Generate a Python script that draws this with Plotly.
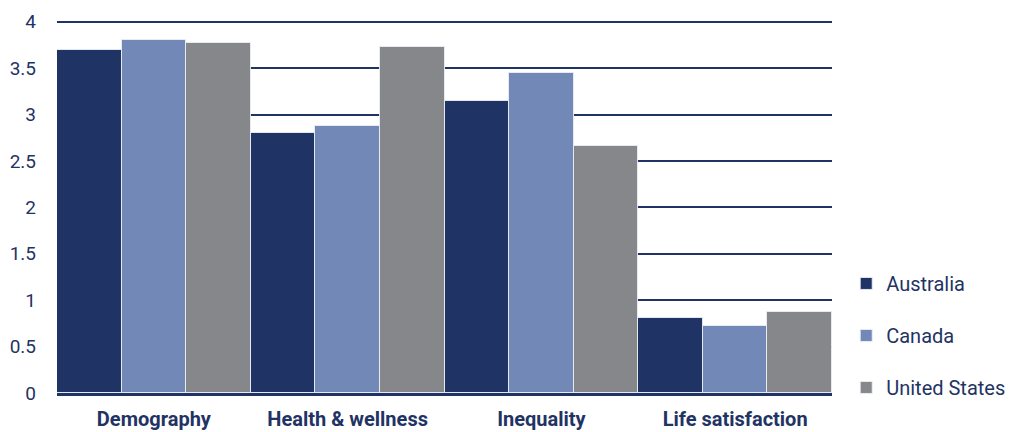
import plotly.graph_objects as go

categories = ["Demography", "Health & wellness", "Inequality", "Life satisfaction"]
australia = [3.70, 2.80, 3.15, 0.81]
canada = [3.80, 2.88, 3.45, 0.72]
united_states = [3.77, 3.73, 2.66, 0.87]
y_ticks = [0, 0.5, 1, 1.5, 2, 2.5, 3, 3.5, 4]
y_tick_text = ["0", "0.5", "1", "1.5", "2", "2.5", "3", "3.5", "4"]

NAVY = "#1F3364"
series = [
    ("Australia", australia, "#1F3364"),
    ("Canada", canada, "#7289B8"),
    ("United States", united_states, "#86878B"),
]

fig = go.Figure()
for name, vals, color in series:
    fig.add_trace(go.Bar(
        name=name, x=categories, y=vals,
        marker=dict(color=color, line=dict(color="rgba(235,238,245,0.9)", width=1)),
        legendgroup=name,
    ))

fig.update_layout(
    width=1011, height=432,
    margin=dict(l=57, r=179, t=19, b=39),
    barmode="group", bargap=0, bargroupgap=0,
    plot_bgcolor="white", paper_bgcolor="white",
    font=dict(family="Roboto", color=NAVY, size=20),
    xaxis=dict(
        showline=True, linecolor=NAVY, linewidth=3,
        tickfont=dict(family="Roboto", size=20, color=NAVY, weight="bold"),
        ticks="", ticklabelstandoff=6, automargin=False,
    ),
    yaxis=dict(
        range=[0, 4.03], tickvals=y_ticks, ticktext=y_tick_text,
        showgrid=True, gridcolor=NAVY, gridwidth=1.5,
        zeroline=False, ticks="", ticklabelstandoff=20, automargin=False,
        tickfont=dict(family="Roboto", size=19, color=NAVY),
    ),
    legend=dict(
        xref="container", yref="container",
        x=0.837, xanchor="left", y=0.058, yanchor="bottom",
        font=dict(family="Roboto", size=20, color=NAVY),
        tracegroupgap=23, itemwidth=30,
    ),
)

fig.write_html("out.html")
